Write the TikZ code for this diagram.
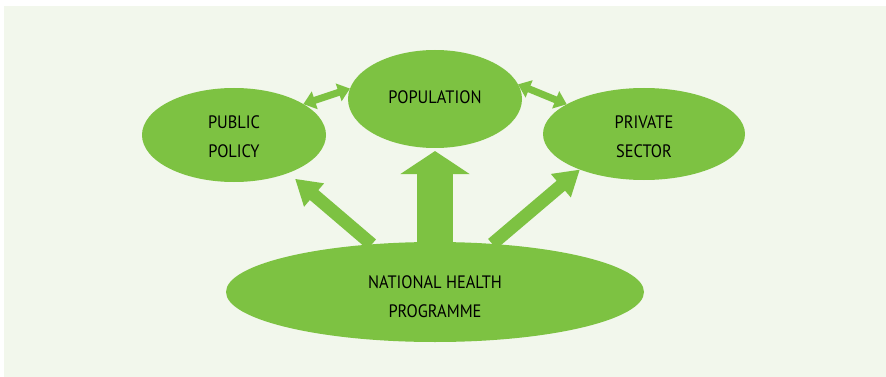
\documentclass[tikz,border=0pt]{standalone}
\usepackage{fontspec}
\setmainfont{PT Sans}[FakeStretch=0.91]
\usetikzlibrary{arrows.meta,shapes.geometric}
\definecolor{leaf}{HTML}{7DC242}
\definecolor{paper}{HTML}{F2F7EC}

\begin{document}
\begin{tikzpicture}[x=1pt, y=-1pt,
		blob/.style={ellipse, fill=leaf, inner sep=0pt, outer sep=0pt, align=center,
			text depth=0pt, font=\fontsize{18}{29}\selectfont},
		twoway/.style={leaf, line width=7pt,
			{Triangle[width=18pt,length=12pt]}-{Triangle[width=18pt,length=12pt]}},
		oneway/.style={leaf, line width=13pt, -{Triangle[width=29pt,length=25pt]}},
		bigway/.style={leaf, line width=36pt, -{Triangle[width=68pt,length=23pt]}}]
		\useasboundingbox (0,0) rectangle (886,377);
		\fill[paper] (4,6) rectangle (886,377);
		\node[blob, minimum width=184pt, minimum height=94pt, text height=45pt] (policy) at (234,135) {PUBLIC\\POLICY};
		\node[blob, minimum width=174pt, minimum height=98pt, text height=9pt] (population) at (435,99) {POPULATION};
		\node[blob, minimum width=202pt, minimum height=92pt, text height=47pt] (private) at (644,134) {PRIVATE\\SECTOR};
		\node[blob, minimum width=418pt, minimum height=100pt, text height=51pt] (nhp) at (435,292) {NATIONAL HEALTH\\PROGRAMME};
		\draw[twoway] (policy.24) -- (population.173);
		\draw[twoway] (population.10) -- (private.159);
		\draw[oneway, shorten >=9pt] (nhp.143) -- (policy.-35);
		\draw[oneway] (nhp.40) -- (private.209);
		\draw[bigway, shorten >=3pt] (nhp.north) -- (population.south);
	\end{tikzpicture}
\end{document}
